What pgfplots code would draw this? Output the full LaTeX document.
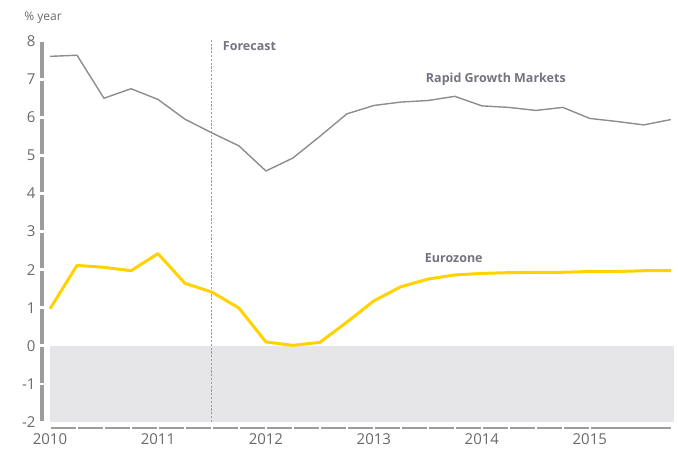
\documentclass[border=0pt]{standalone}
\usepackage{fontspec}
\setmainfont{Open Sans}
\usepackage{pgfplots}
\pgfplotsset{compat=1.18}
\definecolor{axgray}{RGB}{155,155,160}
\definecolor{rgmgray}{RGB}{140,140,145}
\definecolor{eyyellow}{RGB}{255,210,0}
\definecolor{shade}{RGB}{230,230,232}
\definecolor{txtgray}{RGB}{116,116,128}
\definecolor{tickgray}{RGB}{105,105,110}
\begin{document}
\begin{tikzpicture}
\useasboundingbox (0,0) rectangle (678pt,450pt);
\begin{axis}[
  at={(42pt,22pt)}, anchor=south west,
  scale only axis, width=632pt, height=388pt,
  xmin=2009.926, xmax=2015.78,
  ymin=-2.16, ymax=8.03,
  axis lines=left,
  axis line style={draw=none},
  axis on top,
  xtick={2010,2011,2012,2013,2014,2015},
  minor x tick num=3,
  ytick={-2,-1,0,1,2,3,4,5,6,7,8},
  tick align=center,
  major tick length=8pt,
  minor tick length=8pt,
  x tick style={white, line width=2.2pt},
  y tick style={white, line width=2.6pt},
  /pgf/number format/assume math mode=true,
  /pgf/number format/1000 sep={},
  xticklabel style={font=\fontsize{15}{17}\selectfont, text=tickgray, yshift=2pt},
  yticklabel style={font=\fontsize{15}{17}\selectfont, text=tickgray, xshift=1pt},
  clip=false,
]
% shaded negative zone
\addplot[fill=shade, draw=none] coordinates {(2010,-2) (2015.78,-2) (2015.78,0) (2010,0)} -- cycle;
% axis lines drawn manually
\draw[axgray, line width=3.5pt] (axis cs:2009.926,-2) -- (axis cs:2009.926,8.03);
\draw[axgray, line width=2pt] (axis cs:2010,-2.16) -- (axis cs:2015.75,-2.16);
% forecast line
\draw[axgray, line width=1.1pt, dash pattern=on 2.2pt off 1.6pt] (axis cs:2011.5,-2) -- (axis cs:2011.5,8.03);
% Rapid Growth Markets
\addplot[rgmgray, line width=1.4pt, line join=round] coordinates {
(2010.00,7.60) (2010.25,7.63) (2010.50,6.50) (2010.75,6.75)
(2011.00,6.47) (2011.25,5.95) (2011.50,5.59) (2011.75,5.25)
(2012.00,4.59) (2012.25,4.93) (2012.50,5.50) (2012.75,6.09)
(2013.00,6.31) (2013.25,6.40) (2013.50,6.44) (2013.75,6.55)
(2014.00,6.30) (2014.25,6.26) (2014.50,6.18) (2014.75,6.26)
(2015.00,5.97) (2015.25,5.89) (2015.50,5.80) (2015.75,5.94)
};
% Eurozone
\addplot[eyyellow, line width=3pt, line join=round] coordinates {
(2010.00,0.97) (2010.25,2.11) (2010.50,2.06) (2010.75,1.97)
(2011.00,2.42) (2011.25,1.64) (2011.50,1.41) (2011.75,0.99)
(2012.00,0.10) (2012.25,0.01) (2012.50,0.09) (2012.75,0.62)
(2013.00,1.18) (2013.25,1.55) (2013.50,1.75) (2013.75,1.86)
(2014.00,1.90) (2014.25,1.92) (2014.50,1.93) (2014.75,1.93)
(2015.00,1.95) (2015.25,1.95) (2015.50,1.97) (2015.75,1.97)
};
\node[anchor=west, text=txtgray, font=\fontsize{12.5}{14}\selectfont\bfseries, inner sep=0pt] at (axis cs:2011.6,7.87) {Forecast};
\node[text=txtgray, font=\fontsize{12.5}{14}\selectfont\bfseries, inner sep=0pt] at (axis cs:2014.13,7.01) {Rapid Growth Markets};
\node[text=txtgray, font=\fontsize{12.5}{14}\selectfont\bfseries, inner sep=0pt] at (axis cs:2013.74,2.31) {Eurozone};
\end{axis}
\node[text=tickgray, font=\fontsize{12}{14}\selectfont, inner sep=0pt] at (43pt,432pt) {\% year};
\end{tikzpicture}
\end{document}
